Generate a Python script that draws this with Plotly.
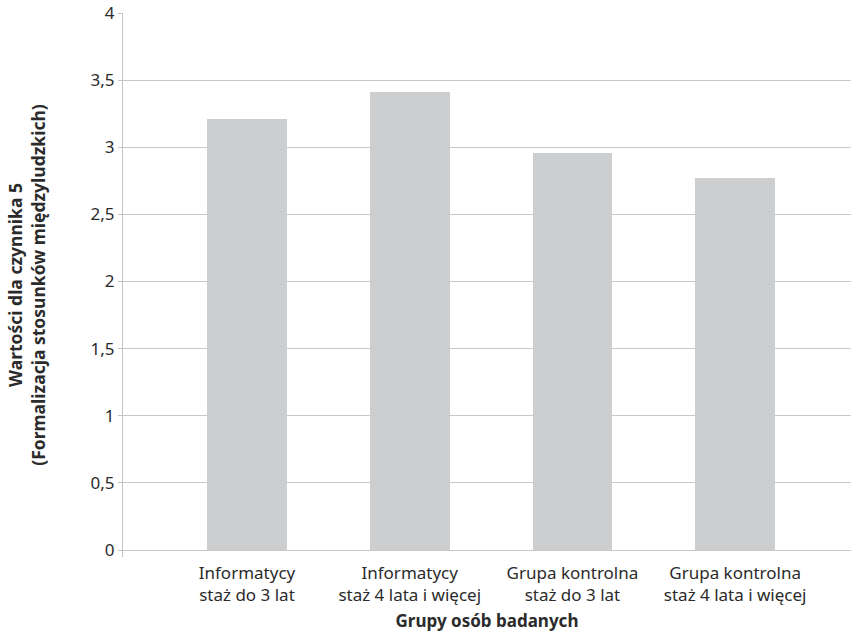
import plotly.graph_objects as go

# Grupy badanych i średnie wartości czynnika 5
groups = [
    "Informatycy<br>staż do 3 lat",
    "Informatycy<br>staż 4 lata i więcej",
    "Grupa kontrolna<br>staż do 3 lat",
    "Grupa kontrolna<br>staż 4 lata i więcej",
]
values = [3.21, 3.41, 2.96, 2.77]

y_ticks = [0, 0.5, 1, 1.5, 2, 2.5, 3, 3.5, 4]
y_tick_labels = ["0", "0,5", "1", "1,5", "2", "2,5", "3", "3,5", "4"]

FONT = "Noto Sans"
TEXT = "#2b2b2b"

fig = go.Figure(
    go.Bar(
        x=list(range(len(groups))),
        y=values,
        width=0.49,
        marker=dict(color="#cdced0", line=dict(width=0)),
        hoverinfo="y",
    )
)

fig.update_layout(
    width=851,
    height=642,
    margin=dict(l=123, r=0, t=13, b=85),
    paper_bgcolor="white",
    plot_bgcolor="white",
    font=dict(family=FONT, size=17, color=TEXT),
    showlegend=False,
    bargap=0,
)

fig.update_xaxes(
    range=[-0.762, 3.712],
    tickvals=list(range(len(groups))),
    ticktext=groups,
    showgrid=False,
    showline=False,
    ticks="",
    zeroline=False,
    tickfont=dict(family=FONT, size=17, color=TEXT),
    ticklabelstandoff=4,
    title=dict(
        text="<b>Grupy osób badanych</b>",
        font=dict(family=FONT, size=17, color=TEXT),
        standoff=10,
    ),
    automargin=False,
)

fig.update_yaxes(
    range=[-0.052, 4],
    tickvals=y_ticks,
    ticktext=y_tick_labels,
    showgrid=True,
    gridcolor="#c8c8c8",
    gridwidth=1,
    zeroline=False,
    showline=True,
    linecolor="#c4c4c4",
    linewidth=1,
    ticks="outside",
    ticklen=4,
    tickcolor="#c4c4c4",
    tickfont=dict(family=FONT, size=17, color=TEXT),
    title=dict(
        text="<b>Wartości dla czynnika 5<br>(Formalizacja stosunków międzyludzkich)</b>",
        font=dict(family=FONT, size=17.5, color=TEXT),
        standoff=40,
    ),
    automargin=False,
)

fig.write_html("out.html")
